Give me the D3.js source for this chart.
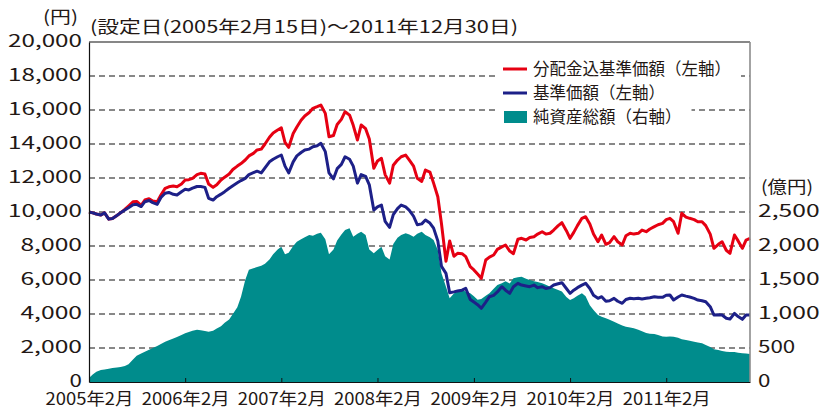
<!DOCTYPE html>
<html lang="ja">
<head>
<meta charset="UTF-8">
<title>基準価額・純資産総額の推移</title>
<script src="https://d3js.org/d3.v7.min.js"></script>
<style>
  body { margin: 0; background: #fff; }
  svg text { font-family: "Noto Sans CJK JP", "Noto Sans", sans-serif; fill: #231815; }
</style>
</head>
<body>
<div id="chart"></div>
<script>
// semi-monthly observation dates
const dates = [
  "2005-02-15","2005-03-01","2005-03-15","2005-04-01","2005-04-15","2005-05-01","2005-05-15","2005-06-01","2005-06-15","2005-07-01","2005-07-15","2005-08-01","2005-08-15","2005-09-01","2005-09-15","2005-10-01","2005-10-15","2005-11-01","2005-11-15","2005-12-01","2005-12-15",
  "2006-01-01","2006-01-15","2006-02-01","2006-02-15","2006-03-01","2006-03-15","2006-04-01","2006-04-15","2006-05-01","2006-05-15","2006-06-01","2006-06-15","2006-07-01","2006-07-15","2006-08-01","2006-08-15","2006-09-01","2006-09-15","2006-10-01","2006-10-15","2006-11-01","2006-11-15","2006-12-01","2006-12-15",
  "2007-01-01","2007-01-15","2007-02-01","2007-02-15","2007-03-01","2007-03-15","2007-04-01","2007-04-15","2007-05-01","2007-05-15","2007-06-01","2007-06-15","2007-07-01","2007-07-15","2007-08-01","2007-08-15","2007-09-01","2007-09-15","2007-10-01","2007-10-15","2007-11-01","2007-11-15","2007-12-01","2007-12-15",
  "2008-01-01","2008-01-15","2008-02-01","2008-02-15","2008-03-01","2008-03-15","2008-04-01","2008-04-15","2008-05-01","2008-05-15","2008-06-01","2008-06-15","2008-07-01","2008-07-15","2008-08-01","2008-08-15","2008-09-01","2008-09-15","2008-10-01","2008-10-15","2008-11-01","2008-11-15","2008-12-01","2008-12-15",
  "2009-01-01","2009-01-15","2009-02-01","2009-02-15","2009-03-01","2009-03-15","2009-04-01","2009-04-15","2009-05-01","2009-05-15","2009-06-01","2009-06-15","2009-07-01","2009-07-15","2009-08-01","2009-08-15","2009-09-01","2009-09-15","2009-10-01","2009-10-15","2009-11-01","2009-11-15","2009-12-01","2009-12-15",
  "2010-01-01","2010-01-15","2010-02-01","2010-02-15","2010-03-01","2010-03-15","2010-04-01","2010-04-15","2010-05-01","2010-05-15","2010-06-01","2010-06-15","2010-07-01","2010-07-15","2010-08-01","2010-08-15","2010-09-01","2010-09-15","2010-10-01","2010-10-15","2010-11-01","2010-11-15","2010-12-01","2010-12-15",
  "2011-01-01","2011-01-15","2011-02-01","2011-02-15","2011-03-01","2011-03-15","2011-04-01","2011-04-15","2011-05-01","2011-05-15","2011-06-01","2011-06-15","2011-07-01","2011-07-15","2011-08-01","2011-08-15","2011-09-01","2011-09-15","2011-10-01","2011-10-15","2011-11-01","2011-11-15","2011-12-01","2011-12-15",
  "2011-12-30"
];

// 分配金込基準価額 (円, left axis)
const navWithDiv = [
  10000,9950,9880,9820,9950,9580,9620,9800,9950,10150,
  10350,10600,10620,10390,10705,10780,10650,10600,11000,11393,
  11480,11530,11490,11650,11882,11900,11980,12200,12275,12235,
  11646,11450,11600,11882,12050,12234,12500,12700,12850,13058,
  13300,13450,13650,13700,14000,14400,14650,14823,14950,14100,
  13800,14620,15000,15400,15650,15850,16100,16200,16294,15800,
  14429,14500,15150,15450,15900,15700,15100,14235,15117,14900,
  14300,12570,13000,13160,12200,11700,12750,13058,13250,13350,
  13050,12700,11980,11800,12470,12350,11700,10900,9300,7100,
  8300,7400,7570,7550,7370,6782,6590,6350,6100,7176,
  7350,7470,7800,7950,8058,7700,7550,8400,8452,8352,
  8500,8548,8700,8841,8700,8750,8940,9200,9370,8900,
  8452,8800,9200,9629,9723,9300,8700,8252,8646,8100,
  8200,8548,8250,8058,8600,8746,8700,8746,8940,8841,
  9000,9135,9250,9333,9550,9629,9430,8746,9923,9700,
  9629,9550,9429,9429,9200,8700,7864,8100,8252,7750,
  7570,8646,8300,7864,8352,8452
];

// 基準価額 (円, left axis)
const nav = [
  10000,9950,9880,9820,9950,9580,9620,9800,9950,10117,
  10250,10420,10450,10320,10605,10680,10550,10450,10850,11100,
  11150,11040,11000,11195,11333,11300,11400,11500,11500,11450,
  10805,10705,10900,11050,11195,11400,11550,11720,11850,11980,
  12200,12310,12400,12300,12600,12950,13100,13250,13352,12700,
  12300,12950,13300,13500,13650,13700,13841,13900,14040,13550,
  12300,11950,12550,12800,13250,13100,12700,11700,12200,12100,
  11600,10117,10300,10411,9450,9100,9850,10200,10411,10300,
  10100,9750,9250,9300,9529,9350,9050,8300,6800,6390,
  5250,5300,5350,5400,5511,4850,4700,4550,4335,4700,
  5017,5100,5300,5605,5400,5215,5600,5805,5705,5650,
  5605,5700,5550,5605,5500,5550,5705,5780,5841,5500,
  5217,5400,5550,5700,5805,5500,5100,4923,5017,4750,
  4780,4923,4750,4629,4850,4923,4900,4923,4880,4923,
  4960,5017,4980,4980,5100,5117,4823,5000,5117,5050,
  5000,4920,4823,4780,4723,4430,3941,3950,3941,3750,
  3700,4040,3850,3686,3941,3941
];

// 純資産総額 (億円, right axis)
const assets = [
  60,110,150,176,185,195,205,212,220,235,
  262,330,385,418,446,475,500,530,560,593,
  615,640,660,690,716,735,755,770,760,750,
  740,755,785,820,870,920,1000,1100,1254,1500,
  1650,1672,1690,1710,1740,1800,1880,1950,1990,1880,
  1900,2000,2063,2100,2130,2162,2150,2180,2196,2100,
  1880,1950,2080,2170,2235,2260,2137,2180,2211,2162,
  1950,1893,1940,1990,1850,1800,2030,2120,2160,2187,
  2170,2137,2180,2211,2162,2130,2088,1941,1600,1400,
  1230,1300,1330,1353,1330,1304,1260,1210,1220,1270,
  1304,1370,1426,1451,1480,1450,1525,1540,1549,1520,
  1500,1480,1470,1451,1430,1400,1380,1353,1330,1250,
  1206,1230,1270,1304,1260,1130,1059,985,960,936,
  915,887,860,830,813,800,790,770,745,720,
  710,706,690,670,666,668,666,650,630,618,
  605,593,580,569,545,515,481,470,455,446,
  440,440,430,422,418,412
];

const leftTicks = [0, 2000, 4000, 6000, 8000, 10000, 12000, 14000, 16000, 18000, 20000];
const rightTicks = [0, 500, 1000, 1500, 2000, 2500];
const xTicks = ["2005-02-15", "2006-02-15", "2007-02-15", "2008-02-15", "2009-02-15", "2010-02-15", "2011-02-15"];
const legendItems = ["分配金込基準価額（左軸）", "基準価額（左軸）", "純資産総額（右軸）"];

const width = 820, height = 410;
const margin = { top: 42, right: 70, bottom: 28, left: 89 };
const colors = { red: "#e60012", blue: "#1d2088", teal: "#008c8c" };

const parse = d3.utcParse("%Y-%m-%d");
const rows = dates.map((d, i) => ({ date: parse(d), r: navWithDiv[i], b: nav[i], a: assets[i] }));

const x = d3.scaleUtc()
  .domain([parse("2005-02-15"), parse("2011-12-30")])
  .range([margin.left, width - margin.right]);
const yL = d3.scaleLinear().domain([0, 20000]).range([height - margin.bottom, margin.top]);
const yR = d3.scaleLinear().domain([0, 5000]).range([height - margin.bottom, margin.top]);

// rough width of a label in the original's wide rounded font
function labelLen(s, digitW, otherW) {
  let w = 0;
  for (const ch of s) w += /[0-9]/.test(ch) ? digitW : ch === "," ? 12 : otherW;
  return w;
}

const svg = d3.select("#chart").append("svg")
  .attr("width", width)
  .attr("height", height);

// dashed grid (under the area)
svg.append("g")
  .selectAll("line")
  .data(leftTicks.filter(t => t > 0 && t < 20000))
  .enter().append("line")
  .attr("x1", x.range()[0])
  .attr("x2", x.range()[1])
  .attr("y1", d => yL(d))
  .attr("y2", d => yL(d))
  .attr("stroke", "#111")
  .attr("stroke-width", 1)
  .attr("stroke-dasharray", "6,4");

// net assets area
svg.append("path")
  .datum(rows)
  .attr("fill", colors.teal)
  .attr("d", d3.area()
    .x(d => x(d.date))
    .y0(yR(0))
    .y1(d => yR(d.a)));

// lines
const lineR = d3.line().x(d => x(d.date)).y(d => yL(d.r));
const lineB = d3.line().x(d => x(d.date)).y(d => yL(d.b));

svg.append("path")
  .datum(rows)
  .attr("fill", "none")
  .attr("stroke", colors.red)
  .attr("stroke-width", 3)
  .attr("stroke-linejoin", "round")
  .attr("d", lineR);

svg.append("path")
  .datum(rows)
  .attr("fill", "none")
  .attr("stroke", colors.blue)
  .attr("stroke-width", 3)
  .attr("stroke-linejoin", "round")
  .attr("d", lineB);

// frame: top black, right grey
svg.append("line")
  .attr("x1", x.range()[0]).attr("x2", x.range()[1])
  .attr("y1", margin.top).attr("y2", margin.top)
  .attr("stroke", "#111").attr("stroke-width", 1.2);
svg.append("line")
  .attr("x1", x.range()[1]).attr("x2", x.range()[1])
  .attr("y1", margin.top).attr("y2", height - margin.bottom)
  .attr("stroke", "#8c8c8c").attr("stroke-width", 1.6);

// left axis
const gL = svg.append("g")
  .attr("transform", "translate(" + margin.left + ",0)")
  .call(d3.axisLeft(yL).tickValues(leftTicks).tickSize(0).tickPadding(7).tickFormat(d3.format(",")));
gL.select(".domain").attr("stroke", "#111").attr("stroke-width", 1.2);
gL.selectAll("text")
  .attr("font-size", 17)
  .attr("font-family", null)
  .attr("dy", "0.28em")
  .attr("textLength", d => labelLen(d3.format(",")(d), 12.4, 16))
  .attr("lengthAdjust", "spacingAndGlyphs");

// right axis
const gR = svg.append("g")
  .attr("transform", "translate(" + (width - margin.right) + ",0)")
  .call(d3.axisRight(yR).tickValues(rightTicks).tickSize(0).tickPadding(8).tickFormat(d3.format(",")));
gR.select(".domain").remove();
gR.selectAll("text")
  .attr("font-size", 17)
  .attr("font-family", null)
  .attr("dy", "0.28em")
  .attr("textLength", d => labelLen(d3.format(",")(d), 12.4, 16))
  .attr("lengthAdjust", "spacingAndGlyphs");

// bottom axis, ticks pointing inward
const gB = svg.append("g")
  .attr("transform", "translate(0," + (height - margin.bottom) + ")")
  .call(d3.axisBottom(x).tickValues(xTicks.map(parse)).tickSize(-4).tickSizeOuter(0)
    .tickFormat(d => d.getUTCFullYear() + "年" + (d.getUTCMonth() + 1) + "月"));
gB.select(".domain").attr("stroke", "#111").attr("stroke-width", 1.2);
gB.selectAll(".tick line").attr("stroke", "#111");
gB.selectAll("text")
  .attr("font-size", 17)
  .attr("font-family", null)
  .attr("y", 23)
  .attr("dy", 0)
  .attr("textLength", 88)
  .attr("lengthAdjust", "spacingAndGlyphs");

// unit labels and period title
svg.append("text")
  .attr("x", 43).attr("y", 23)
  .attr("font-size", 17)
  .attr("textLength", 35).attr("lengthAdjust", "spacingAndGlyphs")
  .text("(円)");
svg.append("text")
  .attr("x", 761).attr("y", 192.5)
  .attr("font-size", 17)
  .attr("textLength", 52).attr("lengthAdjust", "spacingAndGlyphs")
  .text("(億円)");
svg.append("text")
  .attr("x", 90).attr("y", 33)
  .attr("font-size", 17)
  .attr("textLength", 428).attr("lengthAdjust", "spacingAndGlyphs")
  .text("(設定日(2005年2月15日)～2011年12月30日)");

// legend
const legend = svg.append("g").attr("transform", "translate(497,0)");
legendItems.forEach((label, i) => {
  const cy = 69 + i * 24;
  const row = legend.append("g");
  const bg = row.append("rect")
    .attr("x", 0).attr("y", cy - 12).attr("height", 24)
    .attr("fill", "#fff");
  if (i < 2) {
    row.append("line")
      .attr("x1", 6).attr("x2", 30)
      .attr("y1", cy).attr("y2", cy)
      .attr("stroke", i === 0 ? colors.red : colors.blue)
      .attr("stroke-width", 3);
  } else {
    row.append("rect")
      .attr("x", 7).attr("y", cy - 6)
      .attr("width", 23).attr("height", 12)
      .attr("fill", colors.teal);
  }
  const t = row.append("text")
    .attr("x", 36).attr("y", cy + 6.3)
    .attr("font-size", 16.5)
    .text(label);
  bg.attr("width", 36 + t.node().getComputedTextLength() + 10);
});
</script>
</body>
</html>
